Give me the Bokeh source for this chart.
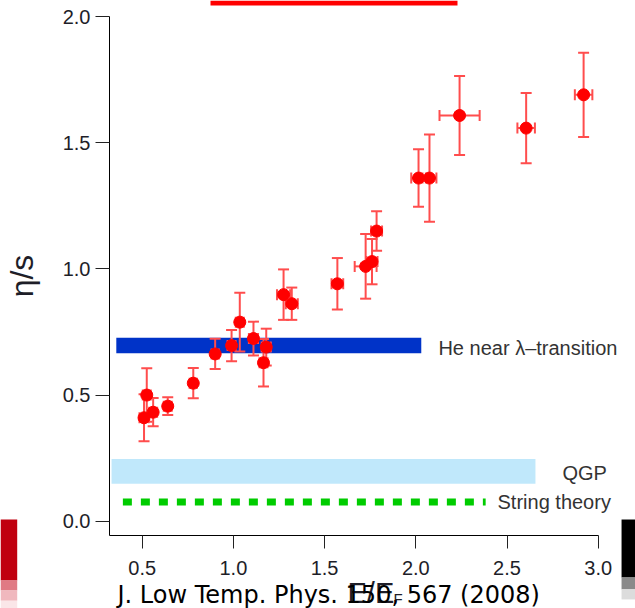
from bokeh.plotting import figure
from bokeh.models import Range1d, FixedTicker, NumeralTickFormatter, Label, ColumnDataSource
from bokeh.embed import file_html
from bokeh.resources import INLINE

# ---- data ----
E_over_EF = [0.51, 0.525, 0.56, 0.64, 0.78, 0.90, 0.99, 1.035, 1.11, 1.165, 1.18,
             1.275, 1.32, 1.57, 1.725, 1.76, 1.785, 2.015, 2.075, 2.24, 2.605, 2.92]
eta_over_s = [0.410, 0.500, 0.432, 0.456, 0.547, 0.663, 0.696, 0.789, 0.724, 0.628, 0.690,
              0.898, 0.862, 0.941, 1.010, 1.029, 1.150, 1.360, 1.360, 1.608, 1.558, 1.690]
eta_err = [0.093, 0.106, 0.056, 0.035, 0.060, 0.060, 0.062, 0.116, 0.067, 0.094, 0.073,
           0.100, 0.064, 0.102, 0.128, 0.090, 0.078, 0.114, 0.173, 0.157, 0.139, 0.167]
E_err = [0.025, 0.022, 0.022, 0.022, 0.020, 0.020, 0.022, 0.022, 0.025, 0.022, 0.025,
         0.036, 0.033, 0.032, 0.060, 0.030, 0.030, 0.040, 0.038, 0.110, 0.048, 0.048]

x_ticks = [0.5, 1.0, 1.5, 2.0, 2.5, 3.0]
y_ticks = [0.0, 0.5, 1.0, 1.5, 2.0]

band_names = ["He near \u03bb\u2013transition", "QGP"]
band_left = [0.358, 0.332]
band_right = [2.030, 2.656]
band_bottom = [0.666, 0.148]
band_top = [0.727, 0.247]

string_theory_x = [0.394, 2.383]
string_theory_y = [0.076, 0.076]

X_MIN, X_MAX = -0.2769, 3.2045
Y_MIN, Y_MAX = -0.3460, 2.0638
X_AXIS_AT, Y_AXIS_AT = -0.0567, 0.3207

# ---- figure ----
p = figure(width=635, height=608,
           x_range=Range1d(X_MIN, X_MAX), y_range=Range1d(Y_MIN, Y_MAX),
           output_backend="svg", toolbar_location=None,
           min_border_left=0, min_border_right=0, min_border_top=0, min_border_bottom=0)
p.outline_line_color = None
p.grid.visible = False

for ax, ticks in ((p.xaxis[0], x_ticks), (p.yaxis[0], y_ticks)):
    ax.ticker = FixedTicker(ticks=ticks)
    ax.formatter = NumeralTickFormatter(format="0.0")
    ax.minor_tick_line_color = None
    ax.major_tick_in = 0
    ax.axis_line_color = "black"
    ax.axis_line_width = 1
    ax.major_tick_line_color = "#222222"
    ax.major_tick_line_width = 1
    ax.major_label_text_font = "Liberation Sans"
    ax.major_label_text_font_size = "20px"
    ax.major_label_text_color = "#1e1e28"

p.xaxis.fixed_location = X_AXIS_AT
p.yaxis.fixed_location = Y_AXIS_AT
p.xaxis.bounds = (Y_AXIS_AT, 3.0)
p.yaxis.bounds = (X_AXIS_AT, 2.0)
p.xaxis.major_tick_out = 13
p.yaxis.major_tick_out = 14
p.xaxis.major_label_standoff = 12
p.yaxis.major_label_standoff = 5

p.yaxis.axis_label = "\u03b7/s"
p.yaxis.axis_label_text_font = "Liberation Sans"
p.yaxis.axis_label_text_font_size = "32px"
p.yaxis.axis_label_text_font_style = "normal"
p.yaxis.axis_label_text_color = "#1e1e28"
p.yaxis.axis_label_standoff = 20

# ---- bands ----
p.quad(left=[band_left[1]], right=[band_right[1]], bottom=[band_bottom[1]], top=[band_top[1]],
       fill_color="#c0e8fb", line_color=None)
p.quad(left=[band_left[0]], right=[band_right[0]], bottom=[band_bottom[0]], top=[band_top[0]],
       fill_color="#0033c8", line_color=None)
p.line(string_theory_x, string_theory_y, line_color="#00cc00", line_width=7,
       line_dash="9 9", line_cap="butt")

# ---- error bars + points ----
src = ColumnDataSource(dict(
    x=E_over_EF, y=eta_over_s,
    ylo=[y - e for y, e in zip(eta_over_s, eta_err)],
    yhi=[y + e for y, e in zip(eta_over_s, eta_err)],
    xlo=[x - e for x, e in zip(E_over_EF, E_err)],
    xhi=[x + e for x, e in zip(E_over_EF, E_err)],
))
err_color = "#ff4d4d"
p.segment(x0="x", y0="ylo", x1="x", y1="yhi", source=src, line_color=err_color, line_width=2)
p.segment(x0="xlo", y0="y", x1="xhi", y1="y", source=src, line_color=err_color, line_width=2)
for yc in ("ylo", "yhi"):
    p.scatter(x="x", y=yc, source=src, marker="dash", size=11, line_color=err_color, line_width=2)
for xc in ("xlo", "xhi"):
    p.scatter(x=xc, y="y", source=src, marker="dash", angle=1.5708, size=11,
              line_color=err_color, line_width=2)
p.scatter(x="x", y="y", source=src, marker="circle", size=12, fill_color="#ff0000",
          line_color="#ff0000")

# ---- annotation texts ----
lab_font = "Liberation Sans"
p.add_layout(Label(x=2.124, y=0.688, text=band_names[0], text_font=lab_font,
                   text_font_size="20px", text_color="#333333", text_baseline="middle"))
p.add_layout(Label(x=2.804, y=0.192, text=band_names[1], text_font=lab_font,
                   text_font_size="20px", text_color="#333333", text_baseline="middle"))
p.add_layout(Label(x=2.448, y=0.078, text="String theory", text_font=lab_font,
                   text_font_size="20px", text_color="#333333", text_baseline="middle"))

# x-axis title
p.add_layout(Label(x=1.6256, y=-0.2849, text="E/E", text_font=lab_font,
                   text_font_size="29px", text_color="#1e1e28", text_baseline="middle"))
p.add_layout(Label(x=1.878, y=-0.306, text="F", text_font=lab_font,
                   text_font_size="15px", text_color="#1e1e28", text_baseline="middle"))

# citation
p.add_layout(Label(x=0.3646, y=-0.2925, text="J. Low Temp. Phys. 150, 567 (2008)",
                   text_font="DejaVu Sans", text_font_size="24px", text_color="black",
                   text_baseline="middle"))

# slide decorations (top bar, bottom-left red block, bottom-right dark block)
p.quad(left=[0.8745], right=[2.2286], bottom=[2.044], top=[2.0638],
       fill_color="#ff0000", line_color=None)
p.quad(left=[X_MIN], right=[-0.1853], bottom=[-0.235], top=[0.0067],
       fill_color="#c0000f", line_color=None)
p.quad(left=[X_MIN, X_MIN, X_MIN], right=[-0.1853, -0.1853, -0.1853],
       bottom=[-0.275, -0.315, -0.346], top=[-0.235, -0.275, -0.315],
       fill_color=["#e07a84", "#f0b8be", "#fae6e8"], line_color=None)
p.quad(left=[3.128], right=[X_MAX], bottom=[-0.2231], top=[0.0067],
       fill_color="#000000", line_color=None)
p.quad(left=[3.128, 3.128], right=[X_MAX, X_MAX], bottom=[-0.27, -0.31], top=[-0.2231, -0.27],
       fill_color=["#8a8a8a", "#dcdcdc"], line_color=None)

open("out.html", "w").write(file_html(p, INLINE))
